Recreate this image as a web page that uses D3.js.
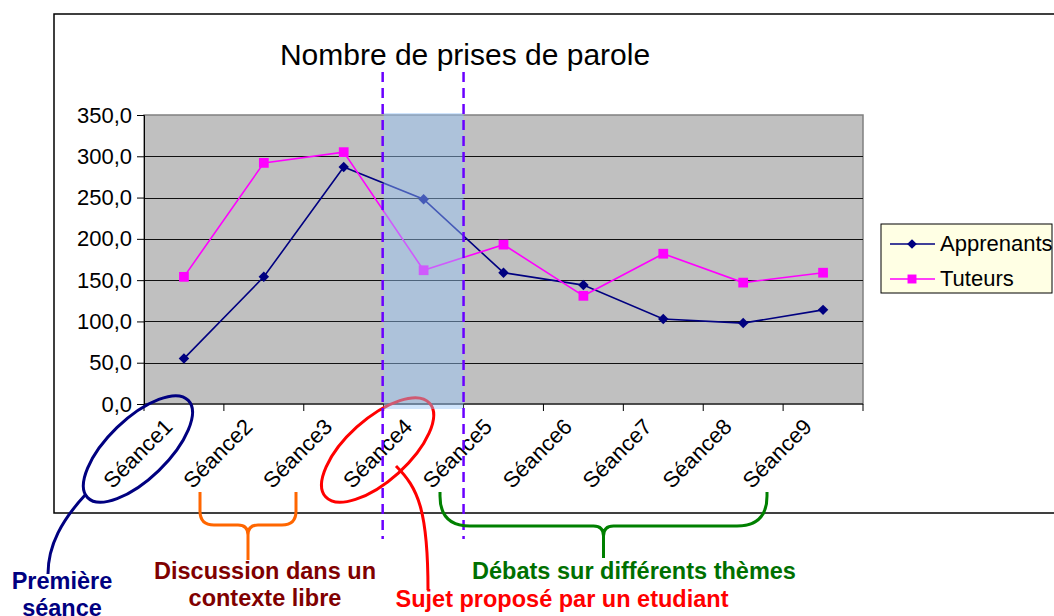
<!DOCTYPE html>
<html>
<head>
<meta charset="utf-8">
<script src="https://cdn.jsdelivr.net/npm/d3@7"></script>
<style>
  body { margin: 0; background: #fff; }
  svg { display: block; font-family: "Liberation Sans", Arial, sans-serif; }
</style>
</head>
<body>
<svg width="1054" height="616"></svg>
<script>
const categories = ["Séance1", "Séance2", "Séance3", "Séance4", "Séance5", "Séance6", "Séance7", "Séance8", "Séance9"];
const apprenants = [55, 154, 287, 248, 159, 144, 103, 98, 114];
const tuteurs = [154, 292, 305, 162, 193, 131, 182, 147, 159];
const yTicks = [0, 50, 100, 150, 200, 250, 300, 350];

const svg = d3.select("svg");

const plot = { left: 144, right: 863, top: 115, bottom: 404 };

const x = d3.scaleBand().domain(categories).range([plot.left, plot.right]);
const y = d3.scaleLinear().domain([0, 350]).range([plot.bottom, plot.top]);
const cx = d => x(d) + x.bandwidth() / 2;
const fmt = v => v.toFixed(1).replace(".", ",");

// outer chart frame
svg.append("rect")
    .attr("x", 54).attr("y", 14)
    .attr("width", 1020).attr("height", 499)
    .attr("fill", "#fff")
    .attr("stroke", "#000")
    .attr("stroke-width", 1.5);

svg.append("text")
    .attr("x", 465).attr("y", 65)
    .attr("text-anchor", "middle")
    .attr("font-size", 30)
    .text("Nombre de prises de parole");

// plot area
svg.append("rect")
    .attr("x", plot.left).attr("y", plot.top)
    .attr("width", plot.right - plot.left).attr("height", plot.bottom - plot.top)
    .attr("fill", "#c0c0c0")
    .attr("stroke", "#808080")
    .attr("stroke-width", 1.5);

svg.append("g")
    .selectAll("line")
    .data(yTicks.filter(t => t > 0 && t < 350))
    .join("line")
    .attr("x1", plot.left).attr("x2", plot.right)
    .attr("y1", d => Math.round(y(d)) + 0.5).attr("y2", d => Math.round(y(d)) + 0.5)
    .attr("stroke", "#111");

// y axis
const yAxis = svg.append("g")
    .attr("transform", `translate(${plot.left},0)`)
    .call(d3.axisLeft(y).tickValues(yTicks).tickFormat(fmt).tickSize(7).tickPadding(5));
yAxis.selectAll("text").attr("font-size", 22).attr("fill", "#000").attr("font-family", "Liberation Sans, Arial, sans-serif");
yAxis.selectAll("line, path").attr("stroke", "#000");

// x axis
const xEdges = categories.map(c => x(c)).concat([plot.right]);
const xAxis = svg.append("g");
xAxis.append("line")
    .attr("x1", plot.left).attr("x2", plot.right)
    .attr("y1", plot.bottom).attr("y2", plot.bottom)
    .attr("stroke", "#000");
xAxis.selectAll(".tk")
    .data(xEdges)
    .join("line")
    .attr("class", "tk")
    .attr("x1", d => d).attr("x2", d => d)
    .attr("y1", plot.bottom).attr("y2", plot.bottom + 7)
    .attr("stroke", "#000");
xAxis.selectAll("text")
    .data(categories)
    .join("text")
    .attr("transform", d => `translate(${cx(d) - 10},428) rotate(-45)`)
    .attr("text-anchor", "end")
    .attr("font-size", 22)
    .text(d => d);

// series
const line = d3.line().x((d, i) => cx(categories[i])).y(d => y(d));

svg.append("path")
    .datum(apprenants)
    .attr("d", line)
    .attr("fill", "none")
    .attr("stroke", "#000080")
    .attr("stroke-width", 1.6);

svg.append("path")
    .datum(tuteurs)
    .attr("d", line)
    .attr("fill", "none")
    .attr("stroke", "#ff00ff")
    .attr("stroke-width", 1.6);

svg.append("g")
    .selectAll("path")
    .data(apprenants)
    .join("path")
    .attr("transform", (d, i) => `translate(${cx(categories[i])},${y(d)})`)
    .attr("d", d3.symbol(d3.symbolDiamond2, 70))
    .attr("fill", "#000080");

svg.append("g")
    .selectAll("path")
    .data(tuteurs)
    .join("path")
    .attr("transform", (d, i) => `translate(${cx(categories[i])},${y(d)})`)
    .attr("d", d3.symbol(d3.symbolSquare, 95))
    .attr("fill", "#ff00ff");

// legend
const lg = svg.append("g");
lg.append("rect")
    .attr("x", 881).attr("y", 224)
    .attr("width", 171).attr("height", 69)
    .attr("fill", "#ffffe4")
    .attr("stroke", "#000");
const legendItems = [
    { name: "Apprenants", color: "#000080", symbol: d3.symbolDiamond2, size: 60 },
    { name: "Tuteurs", color: "#ff00ff", symbol: d3.symbolSquare, size: 80 }
];
legendItems.forEach((it, i) => {
    const ly = 244 + i * 35;
    lg.append("line").attr("x1", 890).attr("x2", 935).attr("y1", ly).attr("y2", ly)
        .attr("stroke", it.color).attr("stroke-width", 1.6);
    lg.append("path").attr("transform", `translate(912,${ly})`)
        .attr("d", d3.symbol(it.symbol, it.size)).attr("fill", it.color);
    lg.append("text").attr("x", 940).attr("y", ly + 7).attr("font-size", 22).text(it.name);
});

// annotations under the highlight
svg.append("ellipse")
    .attr("transform", `translate(${cx("Séance4") - 46},450) rotate(-42)`)
    .attr("rx", 70).attr("ry", 31)
    .attr("fill", "none")
    .attr("stroke", "#ff0000")
    .attr("stroke-width", 3);

// highlighted session
svg.append("rect")
    .attr("x", x("Séance4")).attr("y", 113)
    .attr("width", x.bandwidth()).attr("height", 296)
    .attr("fill", "rgb(150,196,248)")
    .attr("fill-opacity", 0.46);

[x("Séance4") - 1, x("Séance5")].forEach(px => {
    svg.append("line")
        .attr("x1", px).attr("x2", px)
        .attr("y1", 72).attr("y2", 539)
        .attr("stroke", "#6a00ff")
        .attr("stroke-width", 2.5)
        .attr("stroke-dasharray", "10,6");
});

// first session
svg.append("ellipse")
    .attr("transform", `translate(${cx("Séance1") - 46},449) rotate(-44)`)
    .attr("rx", 70).attr("ry", 30)
    .attr("fill", "none")
    .attr("stroke", "#000080")
    .attr("stroke-width", 3);
svg.append("path")
    .attr("d", "M86,494 C62,520 48,545 48,574")
    .attr("fill", "none").attr("stroke", "#000080").attr("stroke-width", 3);

svg.append("path")
    .attr("d", "M396,466 C418,488 428,510 428,590")
    .attr("fill", "none").attr("stroke", "#ff0000").attr("stroke-width", 3);

// curly brackets
function brace(x1, x2, yTop, yMid, yTip, r) {
    const m = (x1 + x2) / 2;
    return `M${x1},${yTop} L${x1},${yMid - r} Q${x1},${yMid} ${x1 + r},${yMid} L${m - 10},${yMid} Q${m},${yMid} ${m},${yMid + 10} L${m},${yTip}` +
        ` M${x2},${yTop} L${x2},${yMid - r} Q${x2},${yMid} ${x2 - r},${yMid} L${m + 10},${yMid} Q${m},${yMid} ${m},${yMid + 10}`;
}
svg.append("path")
    .attr("d", brace(200, 296, 492, 525, 560, 14))
    .attr("fill", "none").attr("stroke", "#ff6600").attr("stroke-width", 3);
svg.append("path")
    .attr("d", brace(440, 767, 492, 526, 558, 30))
    .attr("fill", "none").attr("stroke", "#008000").attr("stroke-width", 3);

const notes = [
    { lines: ["Première", "séance"], x: 62, y: 589, color: "#000080" },
    { lines: ["Discussion dans un", "contexte libre"], x: 265, y: 579, color: "#800000" },
    { lines: ["Débats sur différents thèmes"], x: 634, y: 579, color: "#007000" },
    { lines: ["Sujet proposé par un etudiant"], x: 562, y: 607, color: "#ff0000" }
];
notes.forEach(n => {
    const t = svg.append("text")
        .attr("text-anchor", "middle")
        .attr("font-size", 23.5)
        .attr("font-weight", "bold")
        .attr("fill", n.color);
    n.lines.forEach((l, i) => {
        t.append("tspan").attr("x", n.x).attr("y", n.y + i * 27).text(l);
    });
});
</script>
</body>
</html>
